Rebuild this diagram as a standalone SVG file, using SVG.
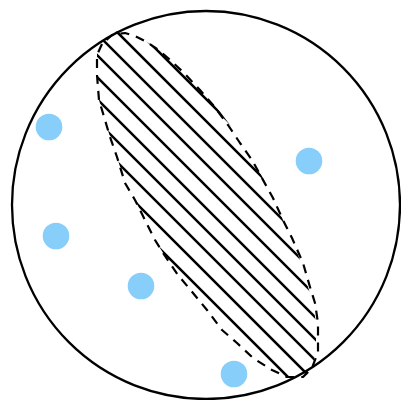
<svg xmlns="http://www.w3.org/2000/svg" width="401" height="400" viewBox="0 0 401 400">
  <style>
    .ring { fill: none; stroke: #000; stroke-width: 2.3; }
    .hatch { stroke: #000; stroke-width: 2.6; stroke-linecap: round; }
    .outline { fill: none; stroke: #000; stroke-width: 2.2; stroke-dasharray: 9 7; stroke-linejoin: round; }
    .dot { fill: #87CEFA; }
  </style>
  <defs>
    <clipPath id="hclip">
      <polygon points="97,52 97,75 99,100 105,120 110,137 117,157 125,183 135,200 145,220 155,240 165,256 178,275 193,293 207,310 222,330 237,343 253,358 272,370 287,377 303,377 312,368 316,352 316,323 313,303 308,287 301,263 292,238 283,220 274,198 264,180 253,160 242,143 230,125 215,105 202,90 185,72 170,58 158,49 147,42 134,35 118,31 108,35 102,41"/>
    </clipPath>
  </defs>
  <g id="boundary">
    <circle class="ring" cx="206" cy="205" r="194"/>
  </g>
  <g id="hatched-region">
    <g clip-path="url(#hclip)">
      <line class="hatch" x1="107" y1="0" x2="507" y2="400"/>
      <line class="hatch" x1="85" y1="0" x2="485" y2="400"/>
      <line class="hatch" x1="63" y1="0" x2="463" y2="400"/>
      <line class="hatch" x1="42" y1="0" x2="442" y2="400"/>
      <line class="hatch" x1="20" y1="0" x2="420" y2="400"/>
      <line class="hatch" x1="-2" y1="0" x2="398" y2="400"/>
      <line class="hatch" x1="-24" y1="0" x2="376" y2="400"/>
      <line class="hatch" x1="-45" y1="0" x2="355" y2="400"/>
      <line class="hatch" x1="-67" y1="0" x2="333" y2="400"/>
      <line class="hatch" x1="-89" y1="0" x2="311" y2="400"/>
    </g>
    <path class="outline" d="M102,44 L97,55 L97,75 L99,100 L105,120 L110,137 L117,157 L125,183 L135,200 L145,220 L155,240 L165,256 L178,275 L193,293 L207,310 L222,330 L237,343 L253,358 L272,370 L287,377 L303,377 L312,368 L318,352 L318,323 L315,303 L310,287 L303,263 L292,238 L283,220 L273,198 L263,180 L252,160 L240,143 L228,125 L213,105 L200,90 L183,72 L168,58 L157,49 L147,42 L135,36 L125,33 L112,35 Z"/>
  </g>
  <g id="points">
    <circle class="dot" cx="49" cy="127" r="13.3"/>
    <circle class="dot" cx="56" cy="236" r="13.3"/>
    <circle class="dot" cx="141" cy="286" r="13.3"/>
    <circle class="dot" cx="309" cy="161" r="13.3"/>
    <circle class="dot" cx="234" cy="374" r="13.3"/>
  </g>
</svg>
